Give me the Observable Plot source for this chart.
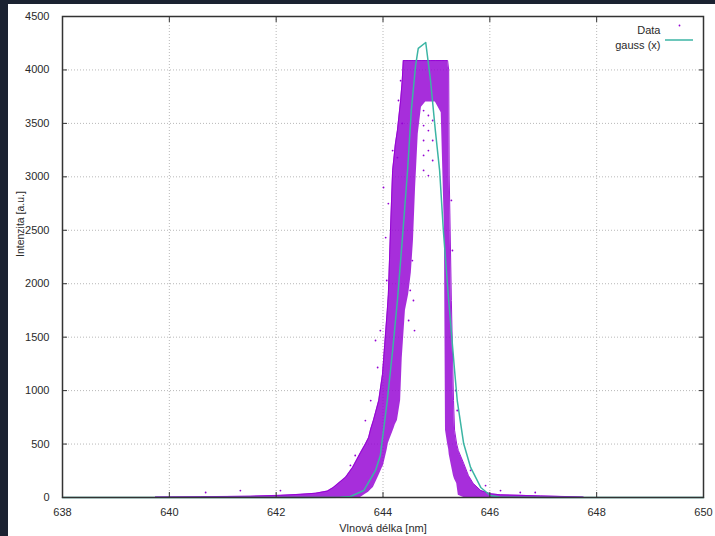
<!DOCTYPE html>
<html>
<head>
<meta charset="utf-8">
<script src="https://cdn.jsdelivr.net/npm/d3@7"></script>
<script src="https://cdn.jsdelivr.net/npm/@observablehq/plot@0.6"></script>
<style>
  html, body { margin: 0; padding: 0; background: #1b2231; width: 715px; height: 536px; overflow: hidden; }
  #wrap { position: absolute; left: 8px; top: 4px; width: 707px; height: 532px; background: #ffffff; }
</style>
</head>
<body>
<div id="wrap"></div>
<script>
// Axis ticks
const xTicks = [638, 640, 642, 644, 646, 648, 650];
const yTicks = [0, 500, 1000, 1500, 2000, 2500, 3000, 3500, 4000, 4500];

// Data: dense scatter envelope (wavelength nm, lower / upper intensity)
const dataX  = [639.74, 640.58, 641.52, 642.08, 642.46, 642.74, 642.96, 643.07, 643.30, 643.43,
                643.58, 643.67, 643.73, 643.77, 643.82, 643.92, 643.99, 644.01, 644.08, 644.10,
                644.14, 644.18, 644.21, 644.23, 644.27, 644.33, 644.36, 644.38, 644.42, 644.48,
                644.53, 644.57, 644.61, 644.66, 644.72, 644.80, 644.89, 644.98, 645.09, 645.15,
                645.17, 645.21, 645.23, 645.24, 645.28, 645.32, 645.34, 645.38, 645.41, 645.51,
                645.60, 645.69, 645.83, 646.01, 646.20, 646.57, 646.95, 647.75];
const dataLo = [0, 0, 0, 0, 0, 0, 0, 0, 0, 0,
                0, 30, 50, 70, 94, 200, 281, 300, 450, 505,
                560, 610, 650, 680, 720, 907, 1300, 1450, 1750, 1900,
                2100, 2400, 2900, 3400, 3650, 3700, 3700, 3700, 3600, 2500,
                630, 500, 450, 400, 300, 200, 170, 131, 20, 0,
                0, 0, 0, 0, 0, 0, 0, 0];
const dataHi = [5, 8, 12, 20, 30, 40, 60, 94, 190, 281,
                420, 500, 560, 640, 720, 907, 1150, 1282, 1749, 1900,
                2498, 3059, 3200, 3300, 3433, 3714, 3900, 4088, 4088, 4088,
                4088, 4088, 4088, 4088, 4088, 4088, 4088, 4088, 4088, 4088,
                4088, 4088, 4000, 3000, 1843, 907, 630, 500, 440, 320,
                205, 131, 65, 35, 25, 20, 15, 5];

// Sparse data points outside the dense band
const outX = [643.86, 643.90, 643.95, 644.01, 644.05, 644.07, 644.10, 644.18, 644.27, 644.33,
              644.36, 644.29, 643.77, 643.67, 643.48, 643.39,
              644.76, 644.76, 644.76, 644.76, 644.76,
              644.85, 644.85, 644.85, 644.85,
              644.93, 644.93, 644.93,
              644.55, 644.57, 644.59, 644.51, 644.48,
              645.28, 645.30, 645.36, 645.39, 645.64, 645.92, 646.20, 646.57, 646.85,
              641.33, 642.08, 640.68];
const outY = [1469, 1216, 1562, 2900, 2432, 2030, 2750, 3246, 3180, 3900,
              3500, 3714, 907, 720, 393, 300,
              3620, 3480, 3340, 3200, 3060,
              3574, 3433, 3246, 3012,
              3527, 3340, 3153,
              2217, 1843, 1562, 1937, 1656,
              2779, 2311, 1001, 814, 253, 112, 65, 47, 47,
              65, 65, 47];

// Gauss fit curve
const gaussX = [638, 642.46, 643.20, 643.39, 643.64, 643.86, 643.95, 644.08, 644.18, 644.27,
                644.36, 644.46, 644.53, 644.61, 644.66, 644.80, 644.89, 644.98, 645.06, 645.13,
                645.23, 645.34, 645.39, 645.51, 645.64, 645.83, 646.01, 646.20, 647.14, 650];
const gaussY = [0, 0, 3, 9, 65, 253, 393, 907, 1375, 1843,
                2404, 3059, 3621, 4041, 4201, 4257, 3901, 3433, 3059, 2498,
                1843, 1188, 907, 505, 281, 94, 19, 3, 0, 0];

const band = dataX.map((x, i) => ({x, lo: dataLo[i], hi: dataHi[i]}));
const outs = outX.map((x, i) => ({x, y: outY[i]}));
const gauss = gaussX.map((x, i) => ({x, y: gaussY[i]}));

const purple = "#9400d3";
const teal = "#3cb5a4";
const ink = "#2a2a2a";

function legendLine(index, scales, values, dims) {
  const x2 = dims.width - dims.marginRight - 10;
  const y = dims.marginTop + 24;
  const line = d3.create("svg:line")
    .attr("x1", x2 - 28).attr("x2", x2)
    .attr("y1", y).attr("y2", y)
    .attr("stroke", teal).attr("stroke-width", 1.5);
  return line.node();
}

const chart = Plot.plot({
  width: 707,
  height: 532,
  marginLeft: 54,
  marginRight: 12,
  marginTop: 12,
  marginBottom: 39,
  x: {domain: [638, 650]},
  y: {domain: [0, 4500]},
  style: {fontFamily: "'Liberation Sans', Arial, Helvetica, sans-serif", fontSize: "11px", color: ink, background: "#ffffff"},
  marks: [
    Plot.gridX({ticks: xTicks, stroke: "#b8b8b8", strokeOpacity: 1, strokeDasharray: "1,2"}),
    Plot.gridY({ticks: yTicks, stroke: "#b8b8b8", strokeOpacity: 1, strokeDasharray: "1,2"}),
    Plot.areaY(band, {x: "x", y1: "lo", y2: "hi", fill: purple, fillOpacity: 0.82}),
    Plot.line(band, {x: "x", y: "hi", stroke: purple, strokeWidth: 1, strokeOpacity: 0.9}),
    Plot.dot(outs, {x: "x", y: "y", r: 0.9, fill: purple, stroke: null}),
    Plot.line(gauss, {x: "x", y: "y", stroke: teal, strokeWidth: 1.5}),
    Plot.frame({stroke: "#333", strokeWidth: 1.5}),
    // tick marks (inward, mirrored)
    Plot.axisX({ticks: xTicks, tickSize: -5, fill: "none", stroke: "#333", label: null}),
    Plot.axisX({anchor: "top", ticks: xTicks, tickSize: -5, fill: "none", stroke: "#333", label: null}),
    Plot.axisY({ticks: yTicks, tickSize: -5, fill: "none", stroke: "#333", label: null}),
    Plot.axisY({anchor: "right", ticks: yTicks, tickSize: -5, fill: "none", stroke: "#333", label: null}),
    // tick labels
    Plot.axisX({ticks: xTicks, tickSize: 0, tickPadding: 11, fill: ink, label: null, tickFormat: d => String(d)}),
    Plot.axisY({ticks: yTicks, tickSize: 0, tickPadding: 13, fill: ink, label: null, tickFormat: d => String(d)}),
    // axis titles
    Plot.text(["Vlnová délka [nm]"], {frameAnchor: "bottom", dy: 31, fill: ink, fontSize: 11, lineAnchor: "middle"}),
    Plot.text(["Intenzita [a.u.]"], {frameAnchor: "left", dx: -42, rotate: -90, fill: ink, fontSize: 10.5, lineAnchor: "middle"}),
    // legend
    Plot.text(["Data"], {frameAnchor: "top-right", dx: -43, dy: 10, textAnchor: "end", fill: ink, fontSize: 11}),
    Plot.text(["gauss (x)"], {frameAnchor: "top-right", dx: -43, dy: 25, textAnchor: "end", fill: ink, fontSize: 11}),
    Plot.dot([0], {frameAnchor: "top-right", dx: -24, dy: 9, r: 0.9, fill: purple, stroke: null}),
    legendLine
  ]
});

document.getElementById("wrap").appendChild(chart);
</script>
</body>
</html>
